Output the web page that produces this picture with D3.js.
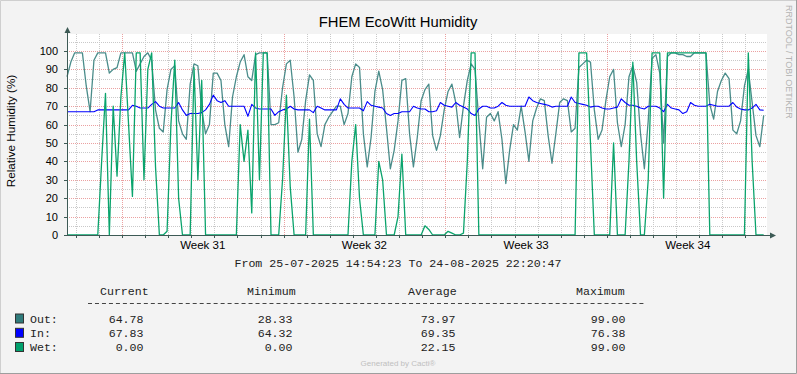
<!DOCTYPE html>
<html>
<head>
<meta charset="utf-8">
<script src="https://cdn.jsdelivr.net/npm/d3@7"></script>
<style>
  body { margin: 0; background: #f3f3f3; }
  svg { display: block; }
</style>
</head>
<body>
<div id="chart"></div>
<script>
var svgWidth = 797;
var svgHeight = 374;

// time range of the graph (local time shown as UTC)
var startTime = Date.UTC(2025, 6, 25, 14, 54, 23);
var endTime = Date.UTC(2025, 7, 24, 22, 20, 47);
var stepHours = 4;

// relative humidity samples, one every 4 hours
var outValues = [86,94,99,99,99,81,67,95,99,99,99,88,90,91,99,99,99,99,89,93,97,99,95,68,58,56,79,90,92,62,
  55,52,82,93,92,68,55,60,88,88,84,60,48,75,86,94,98,86,84,98,99,99,99,60,60,61,80,93,95,75,
  45,52,73,87,84,55,48,60,64,67,70,70,60,66,86,93,91,55,37,53,78,89,79,58,36,46,62,84,85,55,
  37,53,73,79,82,54,46,54,68,78,82,72,53,70,84,93,90,62,36,64,66,62,67,52,28,46,60,57,70,56,
  40,62,69,74,73,54,39,55,72,74,73,56,58,91,93,95,94,68,52,57,73,86,90,61,48,60,86,92,83,55,
  36,62,96,98,88,50,97,99,99,98,98,97,97,99,99,99,99,71,63,78,84,88,85,57,55,62,81,90,72,54,48,65];

var inValues = [67,67,67,67,67,67,67,67,68,68,68,68,68,68,68,68,68,70.5,70,69,69,69,71,72.5,70,69,69,69,69,72,
  68,65,66,66,66,66.5,68,71,76,73,72,73,70,70,70,70,70,64.5,71,69,68.5,68.5,68.5,68.5,65,67,68,68.5,70,68.5,
  68,68,68,68,66.5,70,69,68,68,68,68,74,71,69,69,69,69,67.5,72.5,70.5,70,69.5,69,66,65,66,66,67,67,67,
  70,69,68.5,68.5,67,67,67.5,72,70.5,70,69.5,72,70.5,69.5,68.5,66,65,68.5,70,70,69,69,70,72,70.5,70,70,70,70,70,
  75,73,72,71.5,71,70.5,69.5,70,70,70,70,75,72,71.5,71,70.5,69.5,70,70,69,68.5,68.5,69,69.5,74,72,70.5,70.5,70,69,
  68.5,70,70,70,69,67,71,69,68.5,68,66,67,72,70.5,70,70,70,71,70.5,70,70,70,70,72,69.5,68.5,68,68,69,71,68,67.83];

var wetValues = [0,0,0,0,0,0,0,0,0,40,77,0,70,32,75,99,60,21,99,99,30,90,99,37,0,0,2,60,95,20,
  0,0,0,91,30,84,0,0,0,0,0,0,0,0,0,60,40,57,12,99,30,99,99,0,0,0,30,76,26,0,
  0,0,0,63,0,0,0,0,0,0,0,0,0,0,40,60,20,0,0,0,0,40,30,0,0,0,10,44,0,0,
  0,0,0,5,3,0,0,0,0,2,1,0,0,1,40,99,99,0,0,0,0,0,0,0,0,0,0,0,0,0,
  0,0,0,0,0,0,0,0,0,0,0,0,0,99,99,99,50,0,0,0,0,0,50,0,0,0,40,94,40,0,
  0,30,99,99,99,20,99,99,99,99,99,99,99,99,99,99,99,0,0,0,0,0,0,0,0,0,0,99,40,0,0,0];

var seriesNames = ["Out:", "In:", "Wet:"];
var seriesColors = ["#2f7b7b", "#0000ff", "#00a06c"];
var lineColors = ["#4a8c8a", "#0000ff", "#0aa36c"];
var legendHeaders = ["Current", "Minimum", "Average", "Maximum"];
var legendValues = [
  ["64.78", "28.33", "73.97", "99.00"],
  ["67.83", "64.32", "69.35", "76.38"],
  ["0.00", "0.00", "22.15", "99.00"]
];
var yTicks = [0, 10, 20, 30, 40, 50, 60, 70, 80, 90, 100];

var plot = { left: 67, right: 767, top: 34, bottom: 235 };

var svg = d3.select("#chart")
    .append("svg")
    .attr("width", svgWidth)
    .attr("height", svgHeight)
    .style("font-family", "'Liberation Sans', Arial, sans-serif");

// background and border shading
svg.append("rect").attr("width", svgWidth).attr("height", svgHeight).attr("fill", "#f3f3f3");
svg.append("path").attr("d", `M0.5,${svgHeight} V0.5 H${svgWidth}`).attr("fill", "none").attr("stroke", "#cfcfcf");
svg.append("path").attr("d", `M0,${svgHeight - 0.5} H${svgWidth - 0.5} V0`).attr("fill", "none").attr("stroke", "#9e9e9e");

svg.append("rect")
    .attr("x", plot.left).attr("y", plot.top)
    .attr("width", plot.right - plot.left).attr("height", plot.bottom - plot.top)
    .attr("fill", "#ffffff");

var xScale = d3.scaleUtc()
    .domain([new Date(startTime), new Date(endTime)])
    .range([plot.left, plot.right]);

var yScale = d3.scaleLinear()
    .domain([0, 100])
    .range([plot.bottom, 51]);

// grid lines
var gridGroup = svg.append("g");
var days = d3.utcDay.range(new Date(startTime), new Date(endTime));
var mondays = d3.utcMonday.range(new Date(startTime), new Date(endTime));
var majorColor = "#eba1a1";
var minorColor = "#c9c9c9";

gridGroup.selectAll(".vminor")
    .data(days)
    .enter().append("line")
    .attr("x1", d => Math.round(xScale(d)) + 0.5)
    .attr("x2", d => Math.round(xScale(d)) + 0.5)
    .attr("y1", plot.top).attr("y2", plot.bottom)
    .attr("stroke", d => d3.utcMonday.floor(d).getTime() === d.getTime() ? majorColor : minorColor)
    .attr("stroke-dasharray", "1,1");

var minorY = d3.range(5, 110, 5);
gridGroup.selectAll(".hgrid")
    .data(minorY)
    .enter().append("line")
    .attr("x1", plot.left).attr("x2", plot.right)
    .attr("y1", d => Math.round(yScale(d)) + 0.5)
    .attr("y2", d => Math.round(yScale(d)) + 0.5)
    .attr("stroke", d => (d % 10 === 0 && d <= 100) ? majorColor : minorColor)
    .attr("stroke-dasharray", "1,1");

// y tick labels
svg.append("g").selectAll("text")
    .data(yTicks)
    .enter().append("text")
    .attr("x", 58)
    .attr("y", d => yScale(d) + 4)
    .attr("text-anchor", "end")
    .attr("font-size", "11px")
    .attr("fill", "#000")
    .text(d => d);

// week labels, centred within each week
var weekFormat = d3.utcFormat("Week %V");
svg.append("g").selectAll("text")
    .data(mondays.slice(0, 4))
    .enter().append("text")
    .attr("x", d => xScale(d3.utcHour.offset(d, 84)))
    .attr("y", 249)
    .attr("text-anchor", "middle")
    .attr("font-size", "11.5px")
    .text(d => weekFormat(d));

// series
var lineGen = d3.line()
    .x((d, i) => xScale(new Date(startTime + i * stepHours * 3600000)))
    .y(d => yScale(d));

var allSeries = [outValues, inValues, wetValues];
var widths = [1.3, 1.1, 1.3];
allSeries.forEach(function(vals, k) {
    svg.append("path")
        .datum(vals)
        .attr("d", lineGen)
        .attr("fill", "none")
        .attr("stroke", lineColors[k])
        .attr("stroke-width", widths[k])
        .attr("stroke-linejoin", "round");
});

// axes with arrows
var axisColor = "#3d5a55";
svg.append("line")
    .attr("x1", plot.left + 0.5).attr("x2", plot.left + 0.5)
    .attr("y1", plot.bottom + 1).attr("y2", 31)
    .attr("stroke", axisColor);
svg.append("line")
    .attr("x1", plot.left - 1).attr("x2", 771)
    .attr("y1", plot.bottom + 0.5).attr("y2", plot.bottom + 0.5)
    .attr("stroke", axisColor);
svg.append("path")
    .attr("d", `M${plot.left + 0.5},27 L${plot.left - 2.5},33 L${plot.left + 3.5},33 Z`)
    .attr("fill", axisColor);
svg.append("path")
    .attr("d", `M776,${plot.bottom + 0.5} L770,${plot.bottom - 2.5} L770,${plot.bottom + 3.5} Z`)
    .attr("fill", axisColor);

// small tick marks
svg.append("g").selectAll("line")
    .data(days)
    .enter().append("line")
    .attr("x1", d => Math.round(xScale(d)) + 0.5)
    .attr("x2", d => Math.round(xScale(d)) + 0.5)
    .attr("y1", plot.bottom).attr("y2", plot.bottom + 3)
    .attr("stroke", axisColor);
svg.append("g").selectAll("line")
    .data(yTicks)
    .enter().append("line")
    .attr("x1", plot.left - 3).attr("x2", plot.left)
    .attr("y1", d => Math.round(yScale(d)) + 0.5)
    .attr("y2", d => Math.round(yScale(d)) + 0.5)
    .attr("stroke", axisColor);

// title and axis label
svg.append("text")
    .attr("x", 398).attr("y", 27)
    .attr("text-anchor", "middle")
    .attr("font-size", "14.8px")
    .text("FHEM EcoWitt Humidity");

svg.append("text")
    .attr("transform", "translate(15,131) rotate(-90)")
    .attr("text-anchor", "middle")
    .attr("font-size", "11.7px")
    .text("Relative Humidity (%)");

svg.append("text")
    .attr("transform", "translate(786,5) rotate(90)")
    .attr("font-size", "9px")
    .attr("fill", "#b4b4b4")
    .text("RRDTOOL / TOBI OETIKER");

// legend
var mono = "'Liberation Mono', 'DejaVu Sans Mono', monospace";
var legend = svg.append("g")
    .style("font-family", mono)
    .attr("font-size", "11.6px")
    .attr("fill", "#222");

legend.append("text")
    .attr("x", 398).attr("y", 267)
    .attr("text-anchor", "middle")
    .text("From 25-07-2025 14:54:23 To 24-08-2025 22:20:47");

var headerX = [100, 247, 408, 576];
legend.selectAll(".hdr")
    .data(legendHeaders)
    .enter().append("text")
    .attr("x", (d, i) => headerX[i])
    .attr("y", 295)
    .text(d => d);

// separator row of dashes under the header
svg.append("line")
    .attr("x1", 88).attr("x2", 645)
    .attr("y1", 303.5).attr("y2", 303.5)
    .attr("stroke", "#444")
    .attr("stroke-dasharray", "4,2.98");

var valueX = [143.5, 292.5, 455.5, 625.5];
var rowY = [322.5, 336.8, 351];
seriesNames.forEach(function(name, r) {
    svg.append("rect")
        .attr("x", 15.5).attr("y", rowY[r] - 8.5)
        .attr("width", 8).attr("height", 9)
        .attr("fill", seriesColors[r])
        .attr("stroke", "#333");
    legend.append("text")
        .attr("x", 30).attr("y", rowY[r])
        .text(name);
    legend.selectAll(".v" + r)
        .data(legendValues[r])
        .enter().append("text")
        .attr("x", (d, i) => valueX[i])
        .attr("y", rowY[r])
        .attr("text-anchor", "end")
        .text(d => d);
});

svg.append("text")
    .attr("x", 398).attr("y", 366)
    .attr("text-anchor", "middle")
    .attr("font-size", "8px")
    .attr("fill", "#c0c0c0")
    .text("Generated by Cacti®");
</script>
</body>
</html>
